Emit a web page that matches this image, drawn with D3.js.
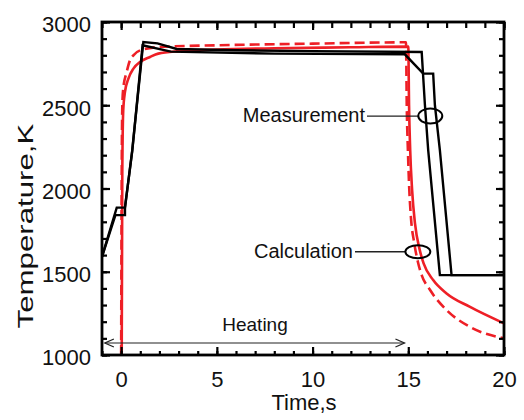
<!DOCTYPE html>
<html>
<head>
<meta charset="utf-8">
<script src="https://cdn.jsdelivr.net/npm/d3@7/dist/d3.min.js"></script>
<style>
  html, body { margin: 0; padding: 0; background: #ffffff; }
  svg { display: block; }
</style>
</head>
<body>
<svg id="chart" width="524" height="420"></svg>
<script>
// ---- Data ----
const xMajorTicks = [0, 5, 10, 15, 20];
const yMajorTicks = [1000, 1500, 2000, 2500, 3000];

// Measurement (two black curves)
const meas1Time = [-1, -0.23, 0.2, 0.58, 1.16, 1.9, 2.9, 6, 10, 15.70, 15.87, 16.04, 16.65, 20];
const meas1Temp = [1590, 1885, 1885, 2230, 2880, 2872, 2838, 2830, 2825, 2820, 2500, 2230, 1480, 1480];

const meas2Time = [-1, -0.3, 0.2, 0.2, 0.58, 1.12, 2.6, 8, 14.82, 15.78, 16.30, 16.39, 16.65, 17.26, 20];
const meas2Temp = [1590, 1840, 1840, 1885, 2225, 2860, 2822, 2810, 2806, 2690, 2690, 2500, 2230, 1480, 1480];

// Calculation (solid red)
const calcSolidTime = [0.03, 0.06, 0.11, 0.2, 0.38, 0.64, 0.99, 1.51, 1.94, 3, 5, 8, 12, 15.0, 15.04, 15.1, 15.2, 15.35, 15.6, 15.8, 16.3, 17, 18.2, 20];
const calcSolidTemp = [1000, 2100, 2470, 2580, 2660, 2720, 2760, 2790, 2810, 2825, 2835, 2842, 2848, 2852, 2500, 2230, 1990, 1790, 1630, 1550, 1450, 1370, 1290, 1190];

// Calculation (dashed red)
const calcDashTime = [0.0, 0.04, 0.07, 0.11, 0.29, 0.46, 0.64, 1.0, 2, 5, 10, 14.88, 14.92, 14.98, 15.05, 15.15, 15.3, 15.5, 15.7, 16.14, 17, 18.2, 20];
const calcDashTemp = [1000, 2300, 2530, 2600, 2700, 2770, 2800, 2830, 2850, 2860, 2870, 2878, 2500, 2230, 2000, 1810, 1680, 1560, 1480, 1390, 1270, 1170, 1100];

// Annotations
const heatingRange = [-0.85, 14.8];
const heatingTemp = 1075;
const measMark = { t: 16.15, T: 2435, text: "Measurement" };
const calcMark = { t: 15.5, T: 1620, text: "Calculation" };

// ---- Layout ----
const svg = d3.select("#chart");
const x = d3.scaleLinear().domain([-1, 20]).range([102, 504]);
const y = d3.scaleLinear().domain([1000, 3000]).range([355, 22]);
const font = "Arial, 'Liberation Sans', sans-serif";

const defs = svg.append("defs");
defs.append("clipPath").attr("id", "clip").append("rect")
  .attr("x", x(-1)).attr("y", y(3000))
  .attr("width", x(20) - x(-1)).attr("height", y(1000) - y(3000));

const zip = (ts, vs) => ts.map((t, i) => [t, vs[i]]);
const lineLin = d3.line().x(d => x(d[0])).y(d => y(d[1]));
const lineSmooth = d3.line().x(d => x(d[0])).y(d => y(d[1])).curve(d3.curveMonotoneX);

const plot = svg.append("g").attr("clip-path", "url(#clip)");

// red calculation curves
plot.append("path").datum(zip(calcDashTime, calcDashTemp))
  .attr("d", lineSmooth).attr("fill", "none")
  .attr("stroke", "#ee1f26").attr("stroke-width", 2.6)
  .attr("stroke-dasharray", "10,5");
plot.append("path").datum(zip(calcSolidTime, calcSolidTemp))
  .attr("d", lineSmooth).attr("fill", "none")
  .attr("stroke", "#ee1f26").attr("stroke-width", 2.6);

// black measurement curves
[zip(meas1Time, meas1Temp), zip(meas2Time, meas2Temp)].forEach(d => {
  plot.append("path").datum(d)
    .attr("d", lineLin).attr("fill", "none")
    .attr("stroke", "#000").attr("stroke-width", 2.4)
    .attr("stroke-linejoin", "miter");
});

// ---- Axes (ticks inside, mirrored) ----
function styleAxis(g) {
  g.select(".domain").remove();
  g.selectAll(".tick line").attr("stroke", "#000").attr("stroke-width", 2.2);
  g.selectAll(".tick text").attr("font-family", font).attr("font-size", 22).attr("fill", "#111");
}
const xMinor = d3.range(-1, 21, 1);
const yMinor = d3.range(1000, 3001, 100);

svg.append("g").attr("transform", `translate(0,${y(1000)})`)
  .call(d3.axisBottom(x).tickValues(xMinor).tickSize(-4).tickFormat(""))
  .call(styleAxis);
svg.append("g").attr("transform", `translate(0,${y(1000)})`)
  .call(d3.axisBottom(x).tickValues(xMajorTicks).tickSize(-8).tickPadding(16).tickFormat(d3.format("d")))
  .call(styleAxis);
svg.append("g").attr("transform", `translate(0,${y(3000)})`)
  .call(d3.axisTop(x).tickValues(xMinor).tickSize(-6).tickFormat(""))
  .call(styleAxis);
svg.append("g").attr("transform", `translate(0,${y(3000)})`)
  .call(d3.axisTop(x).tickValues(xMajorTicks).tickSize(-8).tickFormat(""))
  .call(styleAxis);

svg.append("g").attr("transform", `translate(${x(-1)},0)`)
  .call(d3.axisLeft(y).tickValues(yMinor).tickSize(-5).tickFormat(""))
  .call(styleAxis);
svg.append("g").attr("transform", `translate(${x(-1)},0)`)
  .call(d3.axisLeft(y).tickValues(yMajorTicks).tickSize(-8).tickPadding(11).tickFormat(d3.format("d")))
  .call(styleAxis)
  .call(g => g.selectAll(".tick text").attr("dy", "0.45em"));
svg.append("g").attr("transform", `translate(${x(20)},0)`)
  .call(d3.axisRight(y).tickValues(yMinor).tickSize(-5).tickFormat(""))
  .call(styleAxis);
svg.append("g").attr("transform", `translate(${x(20)},0)`)
  .call(d3.axisRight(y).tickValues(yMajorTicks).tickSize(-8).tickFormat(""))
  .call(styleAxis);

// frame
svg.append("rect")
  .attr("x", x(-1)).attr("y", y(3000))
  .attr("width", x(20) - x(-1)).attr("height", y(1000) - y(3000))
  .attr("fill", "none").attr("stroke", "#000").attr("stroke-width", 2.8);

// axis titles
svg.append("text")
  .attr("x", 304).attr("y", 410)
  .attr("text-anchor", "middle").attr("font-family", font).attr("font-size", 22).attr("fill", "#111")
  .text("Time,s");
svg.append("text")
  .attr("transform", `translate(33,226) rotate(-90) scale(1.42,1)`)
  .attr("text-anchor", "middle").attr("font-family", font).attr("font-size", 22).attr("fill", "#111")
  .text("Temperature,K");

// ---- Annotations ----
// Heating double arrow
const ay = y(heatingTemp) + 0.5;
const ax1 = x(heatingRange[0]), ax2 = x(heatingRange[1]);
svg.append("line").attr("x1", ax1).attr("x2", ax2).attr("y1", ay).attr("y2", ay)
  .attr("stroke", "#222").attr("stroke-width", 1.2);
svg.append("path")
  .attr("d", `M${ax1 + 9},${ay - 4} L${ax1},${ay} L${ax1 + 9},${ay + 4}`)
  .attr("fill", "none").attr("stroke", "#222").attr("stroke-width", 1.3);
svg.append("path")
  .attr("d", `M${ax2 - 9},${ay - 4} L${ax2},${ay} L${ax2 - 9},${ay + 4}`)
  .attr("fill", "none").attr("stroke", "#222").attr("stroke-width", 1.3);
svg.append("text")
  .attr("x", 255).attr("y", 331).attr("text-anchor", "middle")
  .attr("font-family", font).attr("font-size", 19).attr("fill", "#111")
  .text("Heating");

// callouts
function callout(m, textRight, lineStart, rx, ry) {
  const cx = x(m.t), cy = y(m.T);
  svg.append("line").attr("x1", lineStart).attr("x2", cx - rx).attr("y1", cy).attr("y2", cy)
    .attr("stroke", "#222").attr("stroke-width", 1.3);
  svg.append("ellipse").attr("cx", cx).attr("cy", cy).attr("rx", rx).attr("ry", ry)
    .attr("fill", "none").attr("stroke", "#000").attr("stroke-width", 2);
  svg.append("text").attr("x", textRight).attr("y", cy + 6).attr("text-anchor", "end")
    .attr("font-family", font).attr("font-size", 20).attr("fill", "#111")
    .text(m.text);
}
callout(measMark, 365, 367, 12, 7.5);
callout(calcMark, 353, 355, 12.5, 6.5);
</script>
</body>
</html>
